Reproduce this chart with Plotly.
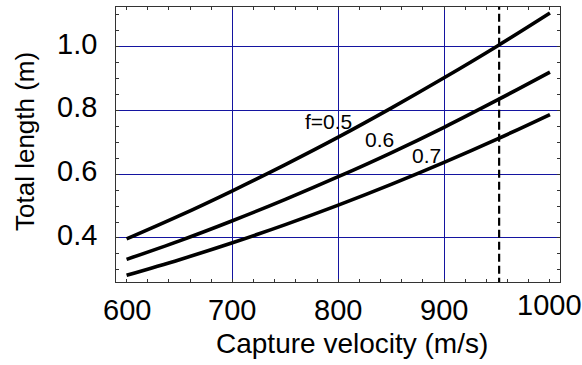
import plotly.graph_objects as go

velocity = [600, 650, 700, 750, 800, 850, 900, 950, 1000]
len_f05 = [0.397, 0.470, 0.548, 0.630, 0.716, 0.807, 0.902, 1.001, 1.105]
len_f06 = [0.333, 0.391, 0.454, 0.521, 0.592, 0.667, 0.747, 0.832, 0.920]
len_f07 = [0.283, 0.332, 0.385, 0.442, 0.503, 0.568, 0.637, 0.710, 0.787]
labels = ["f=0.5", "0.6", "0.7"]
label_x = [791, 839, 883]
label_y = [0.764, 0.71, 0.66]
v_marker = 952
x_ticks = [600, 700, 800, 900, 1000]
x_ticktext = ["600", "700", "800", "900", "1000"]
x_grid = [700, 800, 900]
y_ticks = [0.4, 0.6, 0.8, 1.0]
y_ticktext = ["0.4", "0.6", "0.8", "1.0"]

FONT = "Liberation Sans, Arial"
L, R, T, B = 116, 22, 7, 83
W, H = 582, 365
PW, PH = W - L - R, H - T - B
X_RANGE = [590, 1009.5]
Y_RANGE = [0.262, 1.124]
TICKC = "#333333"
GRIDC = "#1414a0"

fig = go.Figure()
for ys in (len_f05, len_f06, len_f07):
    fig.add_trace(go.Scatter(x=velocity, y=ys, mode="lines",
                             line=dict(color="black", width=3.6, shape="spline", smoothing=1.0),
                             showlegend=False, hoverinfo="skip"))

fig.add_trace(go.Scatter(x=[v_marker, v_marker], y=[0.25, 1.14], mode="lines",
                         line=dict(color="black", width=2.2, dash="8px,4px"),
                         showlegend=False, hoverinfo="skip"))

for t, x, y in zip(labels, label_x, label_y):
    fig.add_annotation(x=x, y=y, text=t, showarrow=False,
                       font=dict(family=FONT, size=21, color="black"))

# tick labels (the reference draws "1000" slightly raised)
for v, t in zip(x_ticks, x_ticktext):
    ypix = 305 if t == "1000" else 310
    fig.add_annotation(x=v, xref="x", y=-(ypix - (H - B)) / PH, yref="paper",
                       text=t, showarrow=False, yanchor="middle", xanchor="center",
                       font=dict(family=FONT, size=29, color="black"))
for v, t in zip(y_ticks, y_ticktext):
    fig.add_annotation(x=(99 - L) / PW, xref="paper", y=v, yref="y", yshift=3,
                       text=t, showarrow=False, yanchor="middle", xanchor="right",
                       font=dict(family=FONT, size=29, color="black"))

# axis titles
fig.add_annotation(x=(352 - L) / PW, xref="paper", y=-(343 - (H - B)) / PH, yref="paper",
                   text="Capture velocity (m/s)", showarrow=False, yanchor="middle", xanchor="center",
                   font=dict(family=FONT, size=28, color="black"))
fig.add_annotation(x=(25 - L) / PW, xref="paper", y=((H - B) - 142) / PH, yref="paper",
                   text="Total length (m)", showarrow=False, textangle=-90,
                   yanchor="middle", xanchor="center",
                   font=dict(family=FONT, size=26, color="black"))

axis_common = dict(showline=True, linecolor=TICKC, linewidth=1, mirror="ticks",
                   ticks="inside", ticklen=3, tickcolor=TICKC, zeroline=False,
                   showticklabels=False, showgrid=True, gridcolor=GRIDC, gridwidth=1)

fig.update_layout(
    xaxis=dict(range=X_RANGE, tickvals=x_grid,
               minor=dict(dtick=20, tick0=600, ticks="inside", ticklen=3, tickcolor=TICKC, showgrid=False),
               **axis_common),
    yaxis=dict(range=Y_RANGE, tickvals=y_ticks,
               minor=dict(dtick=0.05, tick0=0.4, ticks="inside", ticklen=3, tickcolor=TICKC, showgrid=False),
               **axis_common),
    width=W, height=H, margin=dict(l=L, r=R, t=T, b=B),
    plot_bgcolor="white", paper_bgcolor="white",
)

fig.write_html("out.html")
